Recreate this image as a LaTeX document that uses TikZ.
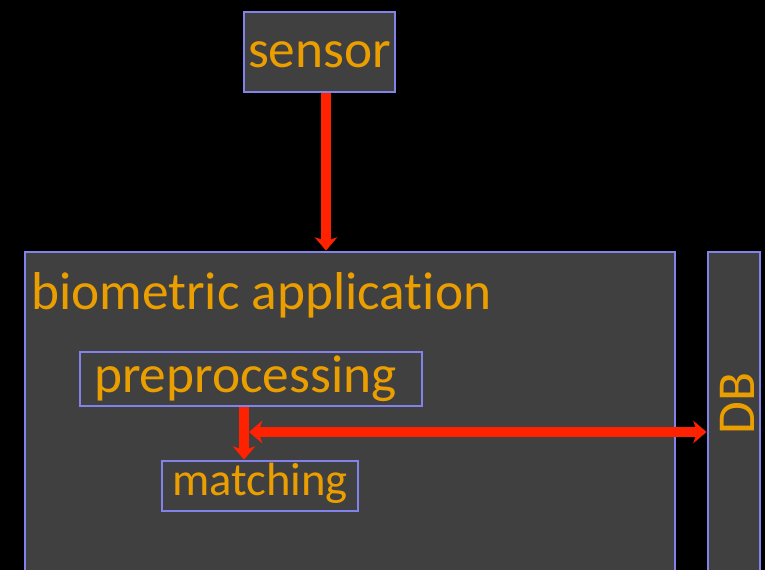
\documentclass[tikz,border=0pt]{standalone}
\usepackage{fontspec}
\setmainfont{Carlito}[Ligatures=NoCommon]
\usetikzlibrary{arrows.meta}
\definecolor{panel}{RGB}{64,64,64}
\definecolor{edge}{RGB}{130,130,235}
\definecolor{ink}{RGB}{235,158,0}
\definecolor{flowred}{RGB}{255,34,0}
\begin{document}
\begin{tikzpicture}[x=0.75pt,y=-0.75pt,
  box/.style={draw=edge, line width=2.2pt, fill=panel, inner sep=0pt, text=ink,
    font=\fontsize{40}{48}\selectfont},
  tag/.style={inner sep=0pt, text=ink, font=\fontsize{40}{48}\selectfont},
  flow/.style={draw=flowred, line width=7pt, -{Stealth[length=10pt,width=17pt,inset=3pt,line width=0.5pt]}},
  both/.style={draw=flowred, line width=7pt, {Stealth[length=10pt,width=17pt,inset=3pt,line width=0.5pt]}-{Stealth[length=10pt,width=17pt,inset=3pt,line width=0.5pt]}}
]
\useasboundingbox (0,0) rectangle (765,570);
\fill[black] (0,0) rectangle (765,570);
\begin{scope}
  \clip (0,0) rectangle (765,570);
  % containers, running past the lower edge
  \node[box, minimum width=487.5pt, minimum height=261pt] (app) at (350,426) {};
  \node[box, minimum width=39pt, minimum height=261pt] (db) at (734,426) {};
\end{scope}
\node[tag, anchor=base west] (applabel) at (31,310) {biometric application};
\node[tag, rotate=90, anchor=base west] (dblabel) at (754,435) {DB};
% processing stages
\node[box, minimum width=113.25pt, minimum height=60pt, text height=24pt, text depth=0pt] (sensor) at (319.5,52) {sensor};
\node[box, inner xsep=10.5pt, text width=235.5pt, align=left, minimum height=40.5pt,
  text height=21pt, text depth=0pt] (pre) at (251,379) {preprocessing};
\node[box, minimum width=147pt, minimum height=37.5pt, text height=15pt, text depth=0pt,
  font=\fontsize{35}{42}\selectfont] (match) at (260,486) {matching};
% data flow
\coordinate (feed) at (326,0);
\coordinate (drop) at (244,0);
\coordinate (tap) at (249,432);
\draw[flow] (sensor.south -| feed) -- (app.north -| feed);
\draw[flow] (pre.south -| drop) -- (match.north -| drop);
\draw[both] (tap) -- (tap -| db.west);
\end{tikzpicture}
\end{document}
